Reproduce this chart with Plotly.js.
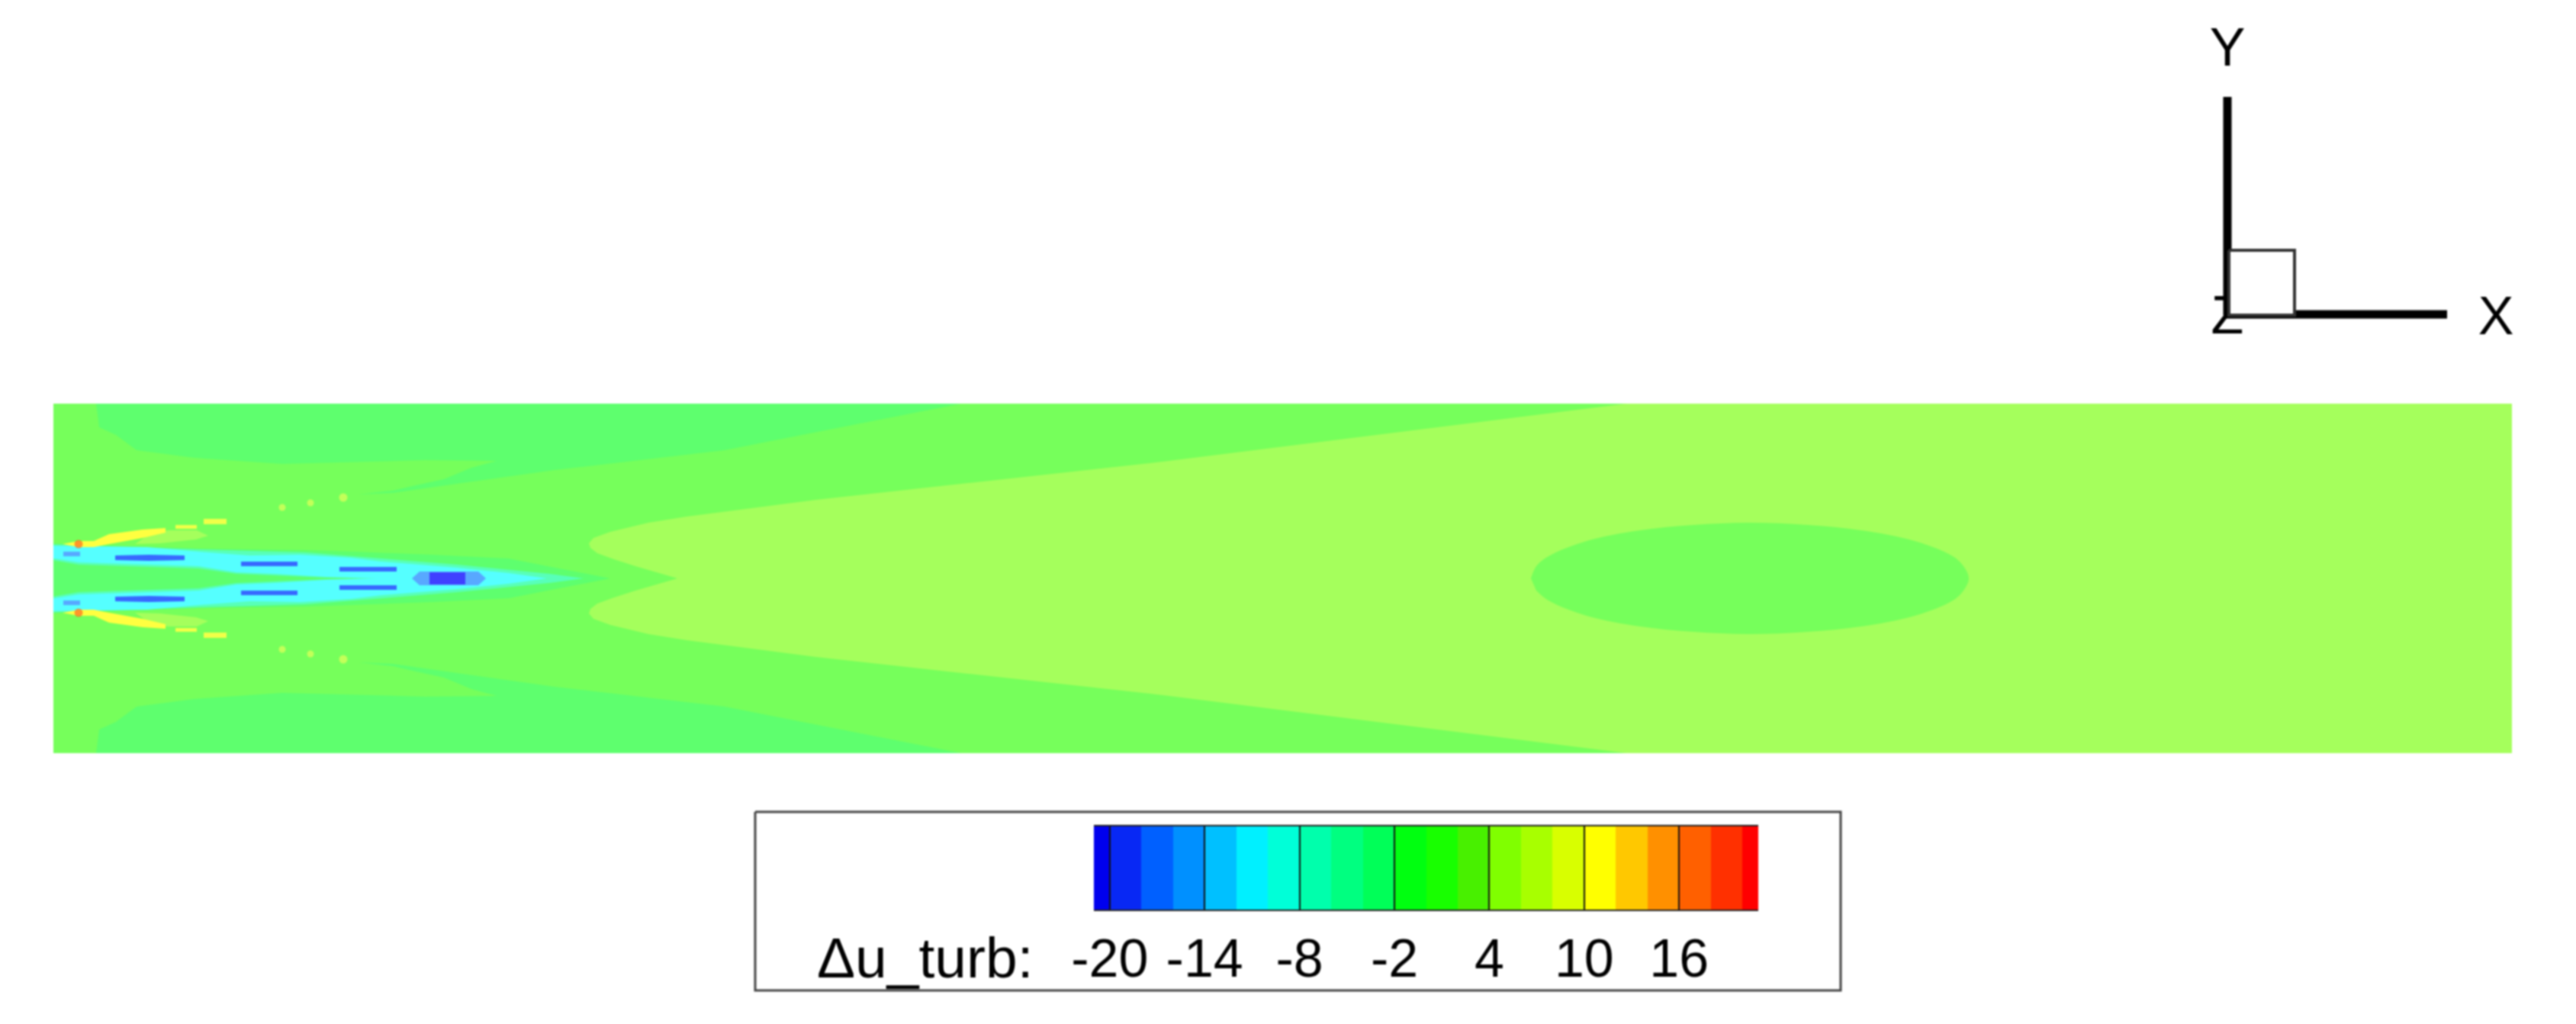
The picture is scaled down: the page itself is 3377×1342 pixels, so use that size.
<!DOCTYPE html>
<html>
<head>
<meta charset="utf-8">
<script src="https://cdn.plot.ly/plotly-3.0.1.min.js"></script>
<style>
html,body{margin:0;padding:0;background:#fff;overflow:hidden}
#chart{width:3377px;height:1342px;filter:blur(1.1px)}
#chart .subplot.xy .plot{filter:blur(3px)}
</style>
</head>
<body>
<div id="chart"></div>
<script>
// ---- field regions, upper half (the flow is symmetric about y = 0) ----
var domainX = [-12, 3235, 3235, -12];
var domainY = [-241, -241, 241, 241];

var wallBandX = [56, 60, 82, 109, 185, 300, 488, 581, 548, 512, 475, 445, 400, 445, 536, 657, 880, 1190, 1190, 56];
var wallBandY = [229, 198, 188, 168, 158, 150, 155, 154, 145, 130, 122, 115, 110, 112, 125, 142, 168, 229, 241, 241];

var coreX = [818, 790, 763, 735, 713, 704, 702, 708, 730, 780, 830, 1000, 1437, 2062, 2062, 3235];
var coreY = [0, 8, 16, 25, 33, 40, 46, 53, 61, 73, 81, 103, 151, 229, 241, 241];

var bubbleTopX = [1937, 1944, 1960, 2010, 2080, 2150, 2224, 2300, 2370, 2440, 2490, 2504, 2511];
var bubbleTopY = [0, 16, 29, 49, 63, 70, 73, 70, 63, 49, 29, 16, 0];
var bubbleLowX = [2504, 2490, 2440, 2370, 2300, 2224, 2150, 2080, 2010, 1960, 1944];
var bubbleLowY = [-16, -29, -49, -63, -70, -73, -70, -63, -49, -29, -16];

var haloX = [-12, 190, 330, 397, 497, 597, 663, 730];
var haloY = [46, 39, 37, 35, 31, 26, 13, 0];

var jetSoftX = [-12, 190, 330, 430, 530, 600, 650, 695, 410, 357, 290, 240, 190, 123, 33, -12];
var jetSoftY = [45, 38, 34, 26, 18, 11, 6, 0, 0, 1, 4, 6, 13, 15, 18, 26];

var jetX = [-12, 40, 123, 190, 257, 323, 390, 430, 530, 597, 647, 424, 357, 290, 240, 190, 123, 33, -12];
var jetY = [43, 42, 41, 35, 30, 31, 27, 22, 14, 7, 0, 0, 2, 6, 8, 16, 18, 21, 28];

var shearLimeX = [107, 123, 150, 188, 203, 187, 140];
var shearLimeY = [45, 56, 63, 63, 56, 51, 46];

var shearYellowX = [12, 33, 53, 73, 117, 147, 147, 117, 73, 53, 33];
var shearYellowY = [45, 49, 49, 58, 64, 66, 60, 53, 45, 41, 41];
var shearYellow2X = [160, 188, 188, 160];
var shearYellow2Y = [65, 65, 70, 70];
var shearYellow3X = [197, 227, 227, 197];
var shearYellow3Y = [71, 71, 78, 78];

var blueBlobsX = [[13, 35, 35, 13], [81, 125, 172, 172, 125, 81], [246, 320, 320, 246], [375, 450, 450, 375]];
var blueBlobsY = [[29, 29, 35, 35], [24, 23, 24, 30, 31, 30], [16, 16, 22, 22], [9, 9, 15, 15]];

var centreHaloX = [470, 480, 557, 567, 557, 480];
var centreHaloY = [0, -9, -9, 0, 9, 9];
var centreX = [493, 540, 540, 493];
var centreY = [-8, -8, 8, 8];

var dotsX = [300, 337, 380, 33];
var dotsY = [93, 99, 106, 45];
var dotSizes = [9, 9, 11, 11];
var dotColors = ['#e4ff58', '#e4ff58', '#e4ff58', '#ff6a20'];

// ---- colour legend ----
var levelEdges = [-21, -20, -18, -16, -14, -12, -10, -8, -6, -4, -2, 0, 2, 4, 6, 8, 10, 12, 14, 16, 18, 20, 21];
var levelColors = ['#0000ee', '#0828f4', '#0060ff', '#0090ff', '#00c0ff', '#00f0ff', '#00ffd8', '#00ffac', '#00ff80', '#00ff58', '#00ff10', '#18ff00', '#48f000', '#80ff00', '#a8ff00', '#d8ff00', '#ffff00', '#ffc800', '#ff9000', '#ff6000', '#ff3000', '#ff0000'];
var legendTicks = [-20, -14, -8, -2, 4, 10, 16];
var legendTickText = ['-20', '-14', '-8', '-2', '4', '10', '16'];
var legendTitle = 'Δu_turb:';

// ---- page-level furniture, in reference pixels ----
var legendBoxX = [990, 2413, 2413, 990, 990];
var legendBoxY = [1064, 1064, 1298, 1298, 1064];
var triadYX = [2920, 2920];
var triadYY = [127, 413];
var triadXX = [2915, 3208];
var triadXY = [412, 412];
var triadBoxX = [2922, 3008, 3008, 2922, 2922];
var triadBoxY = [328, 328, 413, 413, 328];

var FIELD = {base: '#76ff5b', wall: '#5eff6e', core: '#a5ff5c', soft: '#58ffb8', jet: '#55ffff', blue: '#3868ff', deep: '#4040ff', halo: '#58a8ff', yellow: '#ffff40'};
var W = 3377, H = 1342;
var FONT = 'Liberation Sans, Arial, sans-serif';

function mirrorX(x) { return x.concat(x.slice().reverse()); }
function flip(y) { return y.map(function (v) { return -v; }); }
function mirrorY(y) { return y.concat(flip(y).reverse()); }
function poly(x, y, color, shape) {
  return {type: 'scatter', mode: 'lines', x: x, y: y, fill: 'toself', fillcolor: color,
    line: {width: 0, shape: shape || 'linear'}, hoverinfo: 'skip', showlegend: false, xaxis: 'x', yaxis: 'y'};
}
function both(x, y, color) { return [poly(x, y, color), poly(x, flip(y), color)]; }

var traces = [];
traces.push(poly(domainX, domainY, FIELD.base));
traces = traces.concat(both(wallBandX, wallBandY, FIELD.wall));
traces.push(poly(mirrorX(coreX), mirrorY(coreY), FIELD.core));
traces.push(poly(bubbleTopX.concat(bubbleLowX), bubbleTopY.concat(bubbleLowY), FIELD.base, 'spline'));
traces.push(poly(mirrorX(haloX), mirrorY(haloY), FIELD.wall));
traces = traces.concat(both(jetSoftX, jetSoftY, FIELD.soft));
traces = traces.concat(both(jetX, jetY, FIELD.jet));
blueBlobsX.forEach(function (bx, i) {
  traces = traces.concat(both(bx, blueBlobsY[i], i === 0 ? FIELD.halo : FIELD.blue));
});
traces.push(poly(centreHaloX, centreHaloY, FIELD.halo));
traces.push(poly(centreX, centreY, FIELD.deep));
traces = traces.concat(both(shearLimeX, shearLimeY, FIELD.core));
traces = traces.concat(both(shearYellowX, shearYellowY, FIELD.yellow));
traces = traces.concat(both(shearYellow2X, shearYellow2Y, '#f0ff48'));
traces = traces.concat(both(shearYellow3X, shearYellow3Y, '#f0ff48'));
traces.push({type: 'scatter', mode: 'markers', x: dotsX.concat(dotsX), y: dotsY.concat(flip(dotsY)),
  marker: {size: dotSizes.concat(dotSizes), color: dotColors.concat(dotColors), line: {width: 0}}, hoverinfo: 'skip', showlegend: false, xaxis: 'x', yaxis: 'y', cliponaxis: false});

// colour legend strip
var stripScale = [];
var zLo = 0, zHi = levelColors.length;
levelColors.forEach(function (c, i) {
  stripScale.push([i / zHi, c]);
  stripScale.push([(i + 1) / zHi, c]);
});
traces.push({type: 'heatmap', x: levelEdges, y: [0, 1], z: [levelColors.map(function (c, i) { return i + 0.5; })],
  colorscale: stripScale, zmin: zLo, zmax: zHi, showscale: false, hoverinfo: 'skip', xaxis: 'x2', yaxis: 'y2'});

// page furniture
function pageLine(x, y, color, width, fill) {
  var t = {type: 'scatter', mode: 'lines', x: x, y: y, line: {color: color, width: width}, hoverinfo: 'skip', showlegend: false, xaxis: 'x3', yaxis: 'y3', cliponaxis: false};
  if (fill) { t.fill = 'toself'; t.fillcolor = fill; }
  return t;
}
function pageText(x, y, s, size, pos) {
  return {type: 'scatter', mode: 'text', x: [x], y: [y], text: [s], textposition: pos || 'middle center',
    textfont: {family: FONT, size: size, color: '#000'}, hoverinfo: 'skip', showlegend: false, xaxis: 'x3', yaxis: 'y3', cliponaxis: false};
}
traces.push(pageLine(legendBoxX, legendBoxY, '#444', 3));
traces.push(pageText(1071, 1262, legendTitle, 75, 'middle right'));
traces.push(pageText(2920, 419, 'Z', 70));
traces.push(pageLine(triadYX, triadYY, '#000', 11));
traces.push(pageLine(triadXX, triadXY, '#000', 11));
traces.push(pageLine(triadBoxX, triadBoxY, '#333', 4, '#fff'));
traces.push(pageText(2920, 68, 'Y', 70));
traces.push(pageText(3272, 420, 'X', 70));

var layout = {
  width: W, height: H, margin: {l: 0, r: 0, t: 0, b: 0}, showlegend: false,
  paper_bgcolor: '#fff', plot_bgcolor: 'rgba(0,0,0,0)',
  font: {family: FONT, color: '#000'},
  xaxis: {domain: [70 / W, 3293 / W], range: [0, 3223], visible: false, fixedrange: true},
  yaxis: {domain: [1 - 987 / H, 1 - 529 / H], range: [-229, 229], visible: false, fixedrange: true},
  xaxis2: {domain: [1434 / W, 2305 / W], range: [-21, 21], anchor: 'y2', tickmode: 'array', tickvals: legendTicks, ticktext: legendTickText,
    ticks: 'inside', ticklen: 109, tickwidth: 2, tickcolor: '#111', tickfont: {family: FONT, size: 70, color: '#000'},
    ticklabelstandoff: 2, showgrid: false, zeroline: false, showline: true, mirror: true, linecolor: '#222', linewidth: 2, fixedrange: true},
  yaxis2: {domain: [1 - 1192 / H, 1 - 1083 / H], range: [0, 1], anchor: 'x2', visible: false, fixedrange: true},
  xaxis3: {domain: [0, 1], range: [0, W], anchor: 'y3', visible: false, fixedrange: true},
  yaxis3: {domain: [0, 1], range: [H, 0], anchor: 'x3', visible: false, fixedrange: true}
};
Plotly.newPlot('chart', traces, layout, {staticPlot: true, displayModeBar: false});
</script>
</body>
</html>
